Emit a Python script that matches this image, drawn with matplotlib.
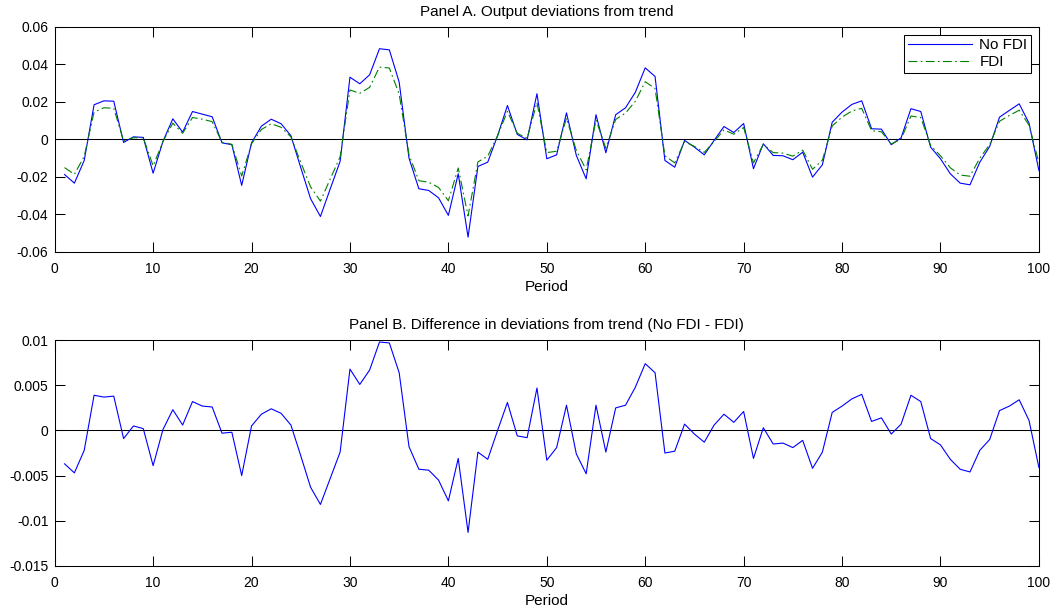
import numpy as np
import matplotlib.pyplot as plt

plt.rcParams['font.family'] = ['Liberation Sans', 'DejaVu Sans']

period = np.arange(1, 101)

# Panel A: output deviations from trend
no_fdi = [-0.0187, -0.0233, -0.0112, 0.0185, 0.0206, 0.0204, -0.0016, 0.0014, 0.0011, -0.0180,
          -0.0010, 0.0110, 0.0039, 0.0149, 0.0135, 0.0121, -0.0018, -0.0028, -0.0245, -0.0018,
          0.0071, 0.0108, 0.0084, 0.0020, -0.0150, -0.0316, -0.0411, -0.0263, -0.0117, 0.0332,
          0.0297, 0.0345, 0.0484, 0.0478, 0.0306, -0.0100, -0.0263, -0.0272, -0.0311, -0.0405,
          -0.0183, -0.0521, -0.0144, -0.0121, 0.0020, 0.0181, 0.0027, -0.0002, 0.0244, -0.0103,
          -0.0082, 0.0142, -0.0085, -0.0210, 0.0132, -0.0071, 0.0132, 0.0169, 0.0252, 0.0382,
          0.0336, -0.0112, -0.0148, -0.0005, -0.0041, -0.0082, -0.0005, 0.0069, 0.0037, 0.0085,
          -0.0156, -0.0023, -0.0085, -0.0087, -0.0108, -0.0068, -0.0201, -0.0135, 0.0092, 0.0146,
          0.0187, 0.0206, 0.0057, 0.0055, -0.0028, 0.0009, 0.0164, 0.0149, -0.0041, -0.0103,
          -0.0183, -0.0233, -0.0242, -0.0121, -0.0037, 0.0119, 0.0155, 0.0190, 0.0087, -0.0165]

fdi = [-0.0150, -0.0186, -0.0090, 0.0146, 0.0169, 0.0166, -0.0007, 0.0009, 0.0009, -0.0141,
       -0.0011, 0.0087, 0.0033, 0.0117, 0.0108, 0.0095, -0.0015, -0.0026, -0.0195, -0.0023,
       0.0053, 0.0084, 0.0065, 0.0014, -0.0122, -0.0253, -0.0329, -0.0210, -0.0093, 0.0264,
       0.0246, 0.0278, 0.0386, 0.0381, 0.0242, -0.0082, -0.0220, -0.0228, -0.0256, -0.0327,
       -0.0152, -0.0408, -0.0120, -0.0089, 0.0020, 0.0150, 0.0033, 0.0006, 0.0197, -0.0070,
       -0.0063, 0.0114, -0.0059, -0.0162, 0.0104, -0.0047, 0.0107, 0.0141, 0.0204, 0.0308,
       0.0272, -0.0087, -0.0125, -0.0012, -0.0037, -0.0069, -0.0011, 0.0051, 0.0028, 0.0064,
       -0.0125, -0.0026, -0.0070, -0.0073, -0.0089, -0.0057, -0.0159, -0.0111, 0.0072, 0.0119,
       0.0152, 0.0166, 0.0047, 0.0041, -0.0024, 0.0002, 0.0125, 0.0117, -0.0032, -0.0087,
       -0.0151, -0.0190, -0.0196, -0.0099, -0.0027, 0.0097, 0.0128, 0.0156, 0.0076, -0.0124]

# Panel B: No FDI - FDI
diff = [-0.0037, -0.0047, -0.0022, 0.0039, 0.0037, 0.0038, -0.0009, 0.0005, 0.0002, -0.0039,
        0.0001, 0.0023, 0.0006, 0.0032, 0.0027, 0.0026, -0.0003, -0.0002, -0.0050, 0.0005,
        0.0018, 0.0024, 0.0019, 0.0006, -0.0028, -0.0063, -0.0082, -0.0053, -0.0024, 0.0068,
        0.0051, 0.0067, 0.0098, 0.0097, 0.0064, -0.0018, -0.0043, -0.0044, -0.0055, -0.0078,
        -0.0031, -0.0113, -0.0024, -0.0032, 0.0000, 0.0031, -0.0006, -0.0008, 0.0047, -0.0033,
        -0.0019, 0.0028, -0.0026, -0.0048, 0.0028, -0.0024, 0.0025, 0.0028, 0.0048, 0.0074,
        0.0064, -0.0025, -0.0023, 0.0007, -0.0004, -0.0013, 0.0006, 0.0018, 0.0009, 0.0021,
        -0.0031, 0.0003, -0.0015, -0.0014, -0.0019, -0.0011, -0.0042, -0.0024, 0.0020, 0.0027,
        0.0035, 0.0040, 0.0010, 0.0014, -0.0004, 0.0007, 0.0039, 0.0032, -0.0009, -0.0016,
        -0.0032, -0.0043, -0.0046, -0.0022, -0.0010, 0.0022, 0.0027, 0.0034, 0.0011, -0.0041]

ticks_a = [-0.06, -0.04, -0.02, 0, 0.02, 0.04, 0.06]
labels_a = ['-0.06', '-0.04', '-0.02', '0', '0.02', '0.04', '0.06']
ticks_b = [-0.015, -0.01, -0.005, 0, 0.005, 0.01]
labels_b = ['-0.015', '-0.01', '-0.005', '0', '0.005', '0.01']
xticks = [0, 10, 20, 30, 40, 50, 60, 70, 80, 90, 100]


def style(ax):
    ax.set_xlim(0, 100)
    ax.set_xticks(xticks)
    ax.tick_params(direction='in', top=True, right=True, length=7.5, width=0.75,
                   labelsize=10, pad=4.5)
    ax.tick_params(axis='x', pad=7)
    for s in ax.spines.values():
        s.set_linewidth(0.75)
    ax.axhline(0, color='black', lw=0.75, zorder=1)
    ax.set_xlabel('Period', fontsize=11, labelpad=3)


fig = plt.figure(figsize=(10.56, 6.13), dpi=100)
ax1 = fig.add_axes([0.0518, 0.589, 0.932, 0.367])
ax2 = fig.add_axes([0.0518, 0.077, 0.932, 0.368])

ax1.plot(period, no_fdi, color='blue', lw=0.8, label='No FDI')
ax1.plot(period, fdi, color='green', lw=0.8, ls=(0, (8, 3, 1.5, 3)), label='FDI')
ax1.set_ylim(-0.06, 0.06)
ax1.set_yticks(ticks_a)
ax1.set_yticklabels(labels_a)
style(ax1)
ax1.set_title('Panel A. Output deviations from trend', fontsize=11, pad=8)
leg = ax1.legend(loc='upper right', fontsize=11, fancybox=False, framealpha=1,
                 edgecolor='black', borderaxespad=0.5, handlelength=4.2,
                 borderpad=0.25, labelspacing=0.2, handletextpad=0.5)
leg.get_frame().set_linewidth(0.75)

ax2.plot(period, diff, color='blue', lw=0.8)
ax2.set_ylim(-0.015, 0.01)
ax2.set_yticks(ticks_b)
ax2.set_yticklabels(labels_b)
style(ax2)
ax2.set_title('Panel B. Difference in deviations from trend (No FDI - FDI)', fontsize=11, pad=8)

fig.savefig('out.png', dpi=100)
